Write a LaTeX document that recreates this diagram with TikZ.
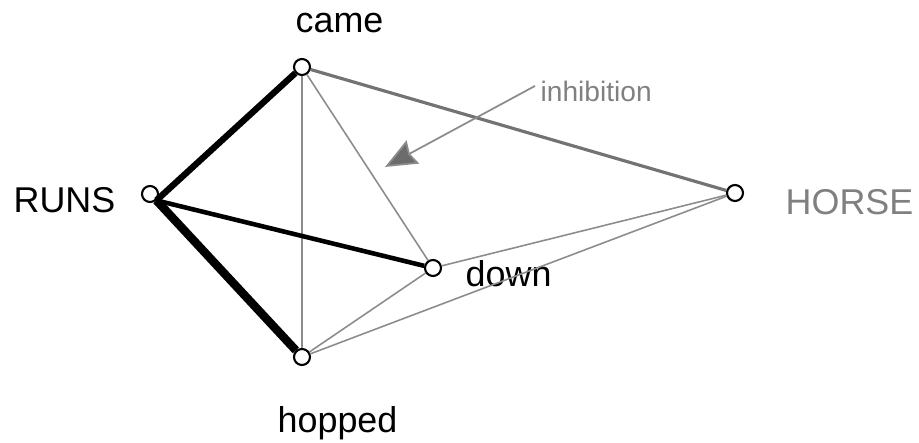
\documentclass[tikz,border=0pt]{standalone}
\usepackage{fontspec}
\setmainfont{Liberation Sans}
\usetikzlibrary{arrows.meta}

\definecolor{linkgray}{gray}{0.55}
\definecolor{wordgray}{gray}{0.5}

\begin{document}
\begin{tikzpicture}[x=0.01cm, y=-0.01cm, >=Stealth]
  \tikzset{
    vertex/.style={circle, draw=black, fill=white, line width=0.6pt,
      minimum size=0.16cm, inner sep=0pt},
    word/.style={anchor=base west, inner sep=0pt,
      font=\fontsize{10.2}{12}\selectfont},
    weak/.style={draw=linkgray, line width=0.45pt},
    strong/.style={draw=black},
  }
  \useasboundingbox (0,0) rectangle (919,443);

  % units
  \node[vertex] (came) at (302,67) {};
  \node[vertex] (runs) at (150,194) {};
  \node[vertex] (down) at (433,268) {};
  \node[vertex] (hopped) at (302,357) {};
  \node[vertex] (horse) at (735,193) {};

  % labels
  \node[word] (camel) at (295,33) {came};
  \node[word] (runsl) at (13,213) {RUNS};
  \node[word] (downl) at (465,287) {down};
  \node[word] (hoppedl) at (277,432) {hopped};
  \node[word, text=wordgray] (horsel) at (785,215) {HORSE};
  \node[word, text=wordgray, font=\fontsize{8}{10}\selectfont]
    (inhib) at (540,102) {inhibition};

  % weak links
  \draw[weak] (came) -- (hopped);
  \draw[weak] (came) -- (down);
  \draw[weak] (hopped) -- (down);
  \draw[weak] (down) -- (horse);
  \draw[weak] (hopped) -- (horse);
  \draw[weak, draw=gray!90!black, line width=0.9pt] (came) -- (horse);

  % strong links
  \draw[strong, line width=1.8pt] (runs.south east) -- (came);
  \draw[strong, line width=1.3pt] (runs.south east) -- (down);
  \draw[strong, line width=2.4pt] (runs.south east) -- (hopped);

  % inhibition arrow
  \coordinate (tip) at (385,167);
  \draw[linkgray, line width=0.5pt,
    arrows={-Stealth[length=9pt, width=7.5pt, inset=1pt, fill=gray!85!black]}]
    (inhib.west) ++(-5,-6) -- (tip);
\end{tikzpicture}
\end{document}
